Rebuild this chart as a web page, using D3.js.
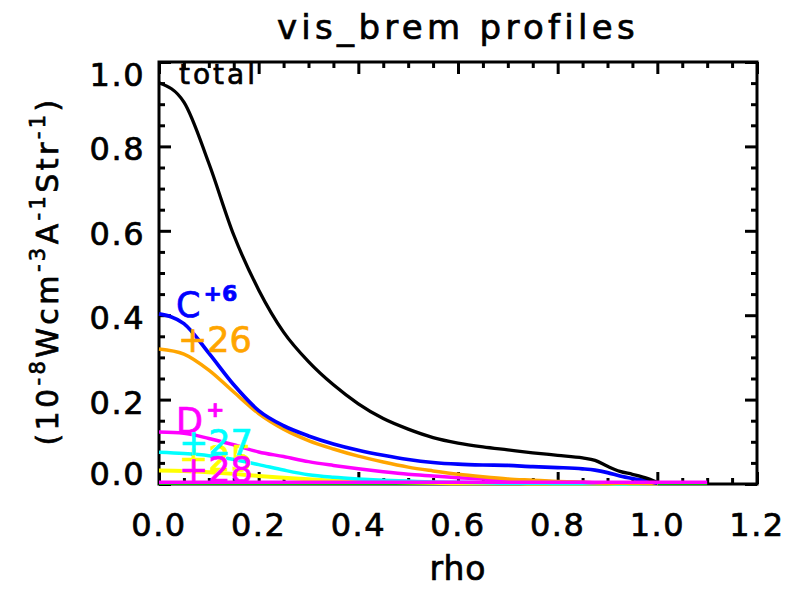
<!DOCTYPE html>
<html>
<head>
<meta charset="utf-8">
<script src="https://cdn.jsdelivr.net/npm/d3@7"></script>
<style>
  html, body { margin: 0; padding: 0; background: #fff; }
  svg { display: block; font-family: "DejaVu Sans", sans-serif; }
  text { stroke-width: 0.7px; }
</style>
</head>
<body>
<svg id="chart" width="804" height="589"></svg>
<script>
// radial grid (normalised minor radius)
const rho = [0, 0.05, 0.1, 0.15, 0.2, 0.25, 0.3, 0.35, 0.4, 0.45, 0.5, 0.55,
             0.6, 0.65, 0.7, 0.75, 0.8, 0.85, 0.875, 0.9, 0.925, 0.95, 0.975, 1.0];

// visible bremsstrahlung emissivity profiles, 1e-8 W cm^-3 A^-1 sr^-1
const total = [0.951, 0.905, 0.76, 0.59, 0.46, 0.36, 0.29, 0.235, 0.19, 0.155, 0.13, 0.11,
               0.097, 0.088, 0.081, 0.074, 0.068, 0.062, 0.056, 0.042, 0.030, 0.023, 0.015, 0.004];
const carbon6 = [0.403, 0.38, 0.31, 0.235, 0.174, 0.138, 0.114, 0.095, 0.08, 0.068, 0.058, 0.051,
                 0.047, 0.045, 0.044, 0.041, 0.039, 0.036, 0.033, 0.027, 0.019, 0.013, 0.008, 0.002];
const ion26 = [0.32, 0.308, 0.27, 0.218, 0.167, 0.13, 0.103, 0.083, 0.066, 0.052, 0.04, 0.031,
               0.023, 0.017, 0.012, 0.009, 0.006, 0.004, 0.003, 0.002, 0.002, 0.001, 0.001, 0.0];
const deuterium = [0.123, 0.12, 0.108, 0.093, 0.076, 0.065, 0.053, 0.044, 0.036, 0.029, 0.023, 0.019,
                   0.015, 0.012, 0.009, 0.007, 0.005, 0.004, 0.003, 0.003, 0.002, 0.002, 0.001, 0.001];
const ion27 = [0.075, 0.072, 0.067, 0.058, 0.046, 0.033, 0.022, 0.016, 0.012, 0.009, 0.007, 0.005,
               0.004, 0.003, 0.002, 0.002, 0.001, 0.001, 0.001, 0.001, 0.0, 0.0, 0.0, 0.0];
const ion25 = [0.032, 0.031, 0.028, 0.024, 0.019, 0.015, 0.011, 0.008, 0.006, 0.005, 0.004, 0.003,
               0.002, 0.002, 0.002, 0.001, 0.001, 0.001, 0.001, 0.001, 0.0, 0.0, 0.0, 0.0];

// the two outermost species extend past the separatrix
const rhoEdge = [0, 0.2, 0.4, 0.6, 0.8, 1.0, 1.1];
const ion28 = [0.004, 0.004, 0.004, 0.004, 0.004, 0.004, 0.004];
const ion29 = [0, 0, 0, 0, 0, 0, 0];

const xTicks = [0, 0.2, 0.4, 0.6, 0.8, 1.0, 1.2];
const yTicks = [0, 0.2, 0.4, 0.6, 0.8, 1.0];
const xTickLabels = ["0.0", "0.2", "0.4", "0.6", "0.8", "1.0", "1.2"];
const yTickLabels = ["0.0", "0.2", "0.4", "0.6", "0.8", "1.0"];

const margin = { left: 159, right: 47, top: 62, bottom: 105 };
const W = 804, H = 589;
const svg = d3.select("#chart");

const x = d3.scaleLinear().domain([0, 1.2]).range([margin.left, W - margin.right]);
const y = d3.scaleLinear().domain([0, 1.0]).range([H - margin.bottom, margin.top]);

const minorX = d3.range(0, 1.2001, 0.05).map(v => +v.toFixed(2)).filter(v => !xTicks.includes(v));
const minorY = d3.range(0, 1.0001, 0.05).map(v => +v.toFixed(2)).filter(v => !yTicks.includes(v));

// ---- axes: IDL-style box with inward ticks on all four sides
const axes = svg.append("g").attr("class", "axes");
function drawAxis(gen, tx, ty) {
  const g = axes.append("g").attr("transform", `translate(${tx},${ty})`).call(gen);
  g.selectAll("text").remove();
  g.select(".domain").remove();
  g.selectAll("line").attr("stroke", "#000").attr("stroke-width", 3);
  return g;
}
const bottomY = y(0), topY = y(1), leftX = x(0), rightX = x(1.2);
drawAxis(d3.axisBottom(x).tickValues(xTicks).tickSize(-12), 0, bottomY);
drawAxis(d3.axisBottom(x).tickValues(minorX).tickSize(-6), 0, bottomY);
drawAxis(d3.axisTop(x).tickValues(xTicks).tickSize(-12), 0, topY);
drawAxis(d3.axisTop(x).tickValues(minorX).tickSize(-6), 0, topY);
drawAxis(d3.axisLeft(y).tickValues(yTicks).tickSize(-12), leftX, 0);
drawAxis(d3.axisLeft(y).tickValues(minorY).tickSize(-6), leftX, 0);
drawAxis(d3.axisRight(y).tickValues(yTicks).tickSize(-12), rightX, 0);
drawAxis(d3.axisRight(y).tickValues(minorY).tickSize(-6), rightX, 0);

axes.append("rect")
  .attr("x", leftX).attr("y", topY)
  .attr("width", rightX - leftX).attr("height", bottomY - topY)
  .attr("fill", "none").attr("stroke", "#000").attr("stroke-width", 3);

// tick labels
svg.append("g").selectAll("text").data(xTicks).join("text")
  .attr("x", d => x(d)).attr("y", bottomY + 52)
  .attr("text-anchor", "middle").attr("stroke", "#000")
  .attr("font-size", 32).attr("letter-spacing", 1.5)
  .text((d, i) => xTickLabels[i]);

svg.append("g").selectAll("text").data(yTicks).join("text")
  .attr("x", leftX - 14)
  // labels at the ends of the range are kept inside the frame height
  .attr("y", d => Math.min(bottomY + 1, Math.max(topY + 24, y(d) + 14)))
  .attr("text-anchor", "end").attr("stroke", "#000")
  .attr("font-size", 32).attr("letter-spacing", 1.5)
  .text((d, i) => yTickLabels[i]);

// titles
svg.append("text")
  .attr("x", (leftX + rightX) / 2).attr("y", 39)
  .attr("text-anchor", "middle").attr("stroke", "#000")
  .attr("font-size", 34).attr("letter-spacing", 4.3)
  .text("vis_brem profiles");

svg.append("text")
  .attr("x", (leftX + rightX) / 2).attr("y", 580)
  .attr("text-anchor", "middle").attr("stroke", "#000")
  .attr("font-size", 33).attr("letter-spacing", 1)
  .text("rho");

const yl = svg.append("text")
  .attr("transform", `translate(58,${(topY + bottomY) / 2 - 2}) rotate(-90)`)
  .attr("text-anchor", "middle").attr("stroke", "#000")
  .attr("font-size", 30).attr("letter-spacing", 3.4);
const ylParts = [["(10", false], ["-8", true], ["Wcm", false], ["-3", true],
                 ["A", false], ["-1", true], ["Str", false], ["-1", true], [")", false]];
let raised = false;
ylParts.forEach(([t, sup]) => {
  const ts = yl.append("tspan").text(t);
  if (sup && !raised) { ts.attr("dy", -13).attr("font-size", 21); raised = true; }
  else if (sup) { ts.attr("font-size", 21); }
  else if (raised) { ts.attr("dy", 13); raised = false; }
});

// ---- profiles
const line = d3.line().x(d => x(d[0])).y(d => y(d[1])).curve(d3.curveMonotoneX);
const series = [
  { r: rhoEdge, v: ion29, color: "#00c000", w: 2 },
  { r: rho, v: ion25, color: "#ffff00", w: 4 },
  { r: rho, v: ion27, color: "#00ffff", w: 3.5 },
  { r: rho, v: deuterium, color: "#ff00ff", w: 3.5 },
  { r: rho, v: ion26, color: "#ffa500", w: 3.5 },
  { r: rho, v: carbon6, color: "#0000ff", w: 3.7 },
  { r: rho, v: total, color: "#000000", w: 3.3 },
  { r: rhoEdge, v: ion28, color: "#ff00ff", w: 3.5 }
];
svg.append("g").selectAll("path").data(series).join("path")
  .attr("d", s => line(s.r.map((r, i) => [r, s.v[i]])))
  .attr("fill", "none")
  .attr("stroke", s => s.color)
  .attr("stroke-width", s => s.w)
  .attr("stroke-linejoin", "round");

// ---- curve labels
const lab = svg.append("g");
function label(tx, ty, color, main, sup, size) {
  const t = lab.append("text").attr("x", tx).attr("y", ty)
    .attr("fill", color).attr("stroke", color).attr("font-size", size || 35);
  t.append("tspan").text(main);
  if (sup) t.append("tspan").attr("dy", -16).attr("dx", 3)
    .attr("font-size", 22).attr("font-weight", "bold").text(sup);
  return t;
}
label(179, 84, "#000000", "total", null, 28).attr("letter-spacing", 3);
label(176, 317, "#0000ff", "C", "+6");
label(178, 352, "#ffa500", "+26");
label(176, 433, "#ff00ff", "D", "+");
label(179, 471, "#ffff00", "+25");
label(179, 455, "#00ffff", "+27");
label(179, 482, "#ff00ff", "+28");
</script>
</body>
</html>
